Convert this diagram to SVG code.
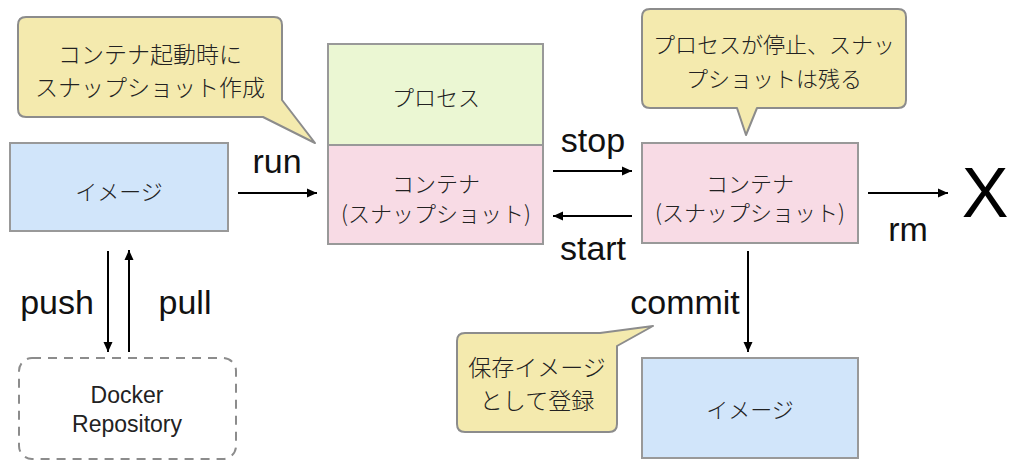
<svg xmlns="http://www.w3.org/2000/svg" width="1024" height="470" viewBox="0 0 1024 470">
<defs>
<marker id="ah" viewBox="0 0 10 10" refX="10" refY="5" markerWidth="10" markerHeight="10" markerUnits="userSpaceOnUse" orient="auto">
<path d="M0,0.5 L10,5 L0,9.5 Z" fill="#000"/>
</marker>
<style>
.box{stroke:#999;stroke-width:2}
.blue{fill:#d1e5fa}
.green{fill:#ebf7d3}
.pink{fill:#f8dbe5}
.call{fill:#f4eaae;stroke:#8c8c8c;stroke-width:2;stroke-linejoin:round}
.jp{font-family:"Noto Sans CJK JP","Liberation Sans",sans-serif;font-weight:300;fill:#222;text-anchor:middle;dominant-baseline:central}
.lbl{font-family:"Liberation Sans",Arial,sans-serif;font-size:34px;fill:#111;text-anchor:middle}
.edge{stroke:#000;stroke-width:2;fill:none;marker-end:url(#ah)}
</style>
</defs>
<rect width="1024" height="470" fill="#fff"/>

<g id="callout-run">
<path class="call" d="M26,17 H274 Q282,17 282,25 V100 L315,143 L263,117 H26 Q18,117 18,109 V25 Q18,17 26,17 Z"/>
<text class="jp" x="150" y="53" font-size="23">コンテナ起動時に</text>
<text class="jp" x="150" y="86" font-size="23">スナップショット作成</text>
</g>

<g id="callout-stop">
<path class="call" d="M650,9 H898 Q906,9 906,17 V100 Q906,108 898,108 H757 L746,135 L737,108 H650 Q642,108 642,100 V17 Q642,9 650,9 Z"/>
<text class="jp" x="774" y="43" font-size="22">プロセスが停止、スナッ</text>
<text class="jp" x="774" y="77" font-size="22">プショットは残る</text>
</g>

<g id="callout-commit">
<path class="call" d="M465,333 H600 L653,326 L617,346 V424 Q617,432 609,432 H465 Q457,432 457,424 V341 Q457,333 465,333 Z"/>
<text class="jp" x="537" y="366" font-size="23">保存イメージ</text>
<text class="jp" x="537" y="399" font-size="23">として登録</text>
</g>

<g id="image-left">
<rect class="box blue" x="10" y="143" width="218" height="88"/>
<text class="jp" x="119" y="190" font-size="22">イメージ</text>
</g>

<g id="container-running">
<rect class="box green" x="328" y="44" width="215" height="101"/>
<text class="jp" x="436" y="96" font-size="22">プロセス</text>
<rect class="box pink" x="328" y="145" width="215" height="99"/>
<text class="jp" x="436" y="182" font-size="22">コンテナ</text>
<text class="jp" x="436" y="212" font-size="22">(スナップショット)</text>
</g>

<g id="container-stopped">
<rect class="box pink" x="642" y="143" width="216" height="100"/>
<text class="jp" x="750" y="182" font-size="22">コンテナ</text>
<text class="jp" x="750" y="211" font-size="22">(スナップショット)</text>
</g>

<g id="image-committed">
<rect class="box blue" x="642" y="358" width="216" height="100"/>
<text class="jp" x="750" y="408" font-size="22">イメージ</text>
</g>

<g id="docker-repository">
<rect x="19" y="358" width="217" height="101" rx="13" fill="none" stroke="#8c8c8c" stroke-width="2" stroke-dasharray="9 7"/>
<text x="127" y="403" font-family="'Liberation Sans',Arial,sans-serif" font-size="23" fill="#222" text-anchor="middle">Docker</text>
<text x="127" y="432" font-family="'Liberation Sans',Arial,sans-serif" font-size="23" fill="#222" text-anchor="middle">Repository</text>
</g>

<g id="removed">
<text x="985" y="217" font-family="'Liberation Sans',Arial,sans-serif" font-size="70" fill="#000" text-anchor="middle">X</text>
</g>

<g id="connectors">
<line class="edge" x1="238" y1="193" x2="317" y2="193"/>
<line class="edge" x1="553" y1="171" x2="632" y2="171"/>
<line class="edge" x1="632" y1="216" x2="553" y2="216"/>
<line class="edge" x1="868" y1="193" x2="948" y2="193"/>
<line class="edge" x1="748" y1="251" x2="748" y2="352"/>
<line class="edge" x1="108" y1="251" x2="108" y2="352"/>
<line class="edge" x1="129" y1="352" x2="129" y2="250"/>
<text class="lbl" x="277" y="173">run</text>
<text class="lbl" x="593" y="152">stop</text>
<text class="lbl" x="593" y="260">start</text>
<text class="lbl" x="908" y="241">rm</text>
<text class="lbl" x="685" y="314">commit</text>
<text class="lbl" x="57" y="314">push</text>
<text class="lbl" x="185" y="314">pull</text>
</g>
</svg>
